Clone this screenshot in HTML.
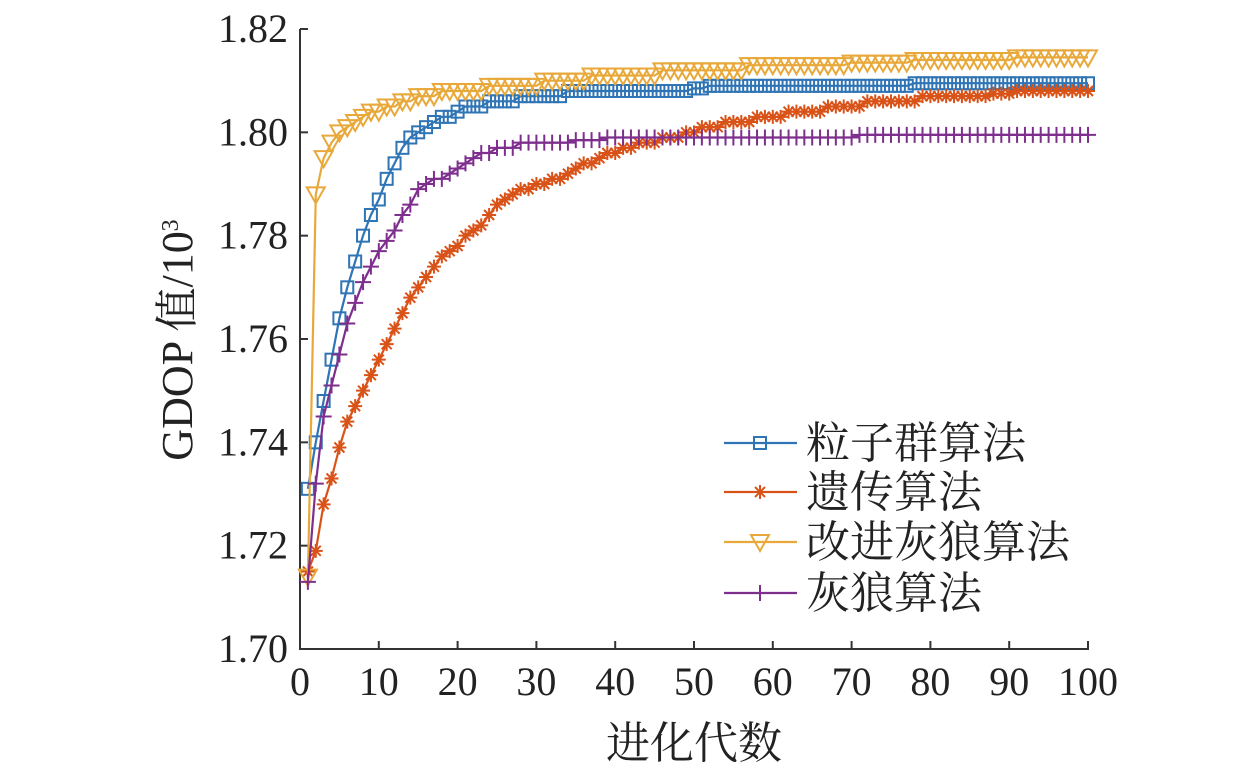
<!DOCTYPE html>
<html><head><meta charset="utf-8"><style>
html,body{margin:0;padding:0;background:#fff;}
svg text{font-family:"Liberation Serif","Noto Serif CJK SC",serif;fill:#222;}
</style></head><body>
<svg id="chart" width="1260" height="769" xmlns="http://www.w3.org/2000/svg">
<g id="axes"></g>
<g id="series"></g>
<g id="legend"></g>
</svg>
<script>
const xTicks=[0,10,20,30,40,50,60,70,80,90,100];
const yTicks=[1.70,1.72,1.74,1.76,1.78,1.80,1.82];
const yTickLabels=["1.70","1.72","1.74","1.76","1.78","1.80","1.82"];
const seriesNames=["粒子群算法","遗传算法","改进灰狼算法","灰狼算法"];
const pso=[1.731,1.740,1.748,1.756,1.764,1.770,1.775,1.780,1.784,1.787,
1.791,1.794,1.797,1.799,1.800,1.801,1.802,1.803,1.803,1.804,
1.805,1.805,1.805,1.806,1.806,1.806,1.806,1.807,1.807,1.807,
1.807,1.807,1.807,1.808,1.808,1.808,1.808,1.808,1.808,1.808,
1.808,1.808,1.808,1.808,1.808,1.808,1.808,1.808,1.808,1.8085,
1.8085,1.809,1.809,1.809,1.809,1.809,1.809,1.809,1.809,1.809,
1.809,1.809,1.809,1.809,1.809,1.809,1.809,1.809,1.809,1.809,
1.809,1.809,1.809,1.809,1.809,1.809,1.809,1.8095,1.8095,1.8095,
1.8095,1.8095,1.8095,1.8095,1.8095,1.8095,1.8095,1.8095,1.8095,1.8095,
1.8095,1.8095,1.8095,1.8095,1.8095,1.8095,1.8095,1.8095,1.8095,1.8095];
const ga=[1.715,1.719,1.728,1.733,1.739,1.744,1.747,1.750,1.753,1.756,
1.759,1.762,1.765,1.768,1.770,1.772,1.774,1.776,1.777,1.778,
1.780,1.781,1.782,1.784,1.786,1.787,1.788,1.789,1.789,1.790,
1.790,1.791,1.791,1.792,1.793,1.794,1.794,1.795,1.796,1.796,
1.797,1.797,1.798,1.798,1.798,1.799,1.799,1.799,1.800,1.800,
1.801,1.801,1.801,1.802,1.802,1.802,1.802,1.803,1.803,1.803,
1.803,1.804,1.804,1.804,1.804,1.804,1.805,1.805,1.805,1.805,
1.805,1.806,1.806,1.806,1.806,1.806,1.806,1.806,1.807,1.807,
1.807,1.807,1.807,1.807,1.807,1.807,1.807,1.8075,1.8075,1.8075,
1.808,1.808,1.808,1.808,1.808,1.808,1.808,1.808,1.808,1.808];
const igwo=[1.714,1.788,1.795,1.798,1.800,1.801,1.802,1.803,1.804,1.804,
1.805,1.805,1.806,1.806,1.807,1.807,1.807,1.808,1.808,1.808,
1.808,1.808,1.808,1.809,1.809,1.809,1.809,1.809,1.809,1.809,
1.810,1.810,1.810,1.810,1.810,1.810,1.811,1.811,1.811,1.811,
1.811,1.811,1.811,1.811,1.811,1.812,1.812,1.812,1.812,1.812,
1.812,1.812,1.812,1.812,1.812,1.812,1.813,1.813,1.813,1.813,
1.813,1.813,1.813,1.813,1.813,1.813,1.813,1.813,1.813,1.8135,
1.8135,1.8135,1.8135,1.8135,1.8135,1.8135,1.8135,1.814,1.814,1.814,
1.814,1.814,1.814,1.814,1.814,1.814,1.814,1.814,1.814,1.814,
1.8145,1.8145,1.8145,1.8145,1.8145,1.8145,1.8145,1.8145,1.8145,1.8145];
const gwo=[1.713,1.732,1.745,1.751,1.757,1.763,1.767,1.771,1.774,1.777,
1.779,1.781,1.784,1.786,1.789,1.790,1.791,1.791,1.792,1.793,
1.794,1.795,1.796,1.796,1.797,1.797,1.797,1.798,1.798,1.798,
1.798,1.798,1.798,1.798,1.7985,1.7985,1.7985,1.7985,1.799,1.799,
1.799,1.799,1.799,1.799,1.799,1.799,1.799,1.799,1.799,1.799,
1.799,1.799,1.799,1.799,1.799,1.799,1.799,1.799,1.799,1.799,
1.799,1.799,1.799,1.799,1.799,1.799,1.799,1.799,1.799,1.799,
1.7995,1.7995,1.7995,1.7995,1.7995,1.7995,1.7995,1.7995,1.7995,1.7995,
1.7995,1.7995,1.7995,1.7995,1.7995,1.7995,1.7995,1.7995,1.7995,1.7995,
1.7995,1.7995,1.7995,1.7995,1.7995,1.7995,1.7995,1.7995,1.7995,1.7995];

const NS="http://www.w3.org/2000/svg";
const X0=300,X1=1088,Y0=649,Y1=29;
function xs(v){return X0+(v-0)/(100-0)*(X1-X0);}
function ys(v){return Y0-(v-1.70)/(1.82-1.70)*(Y0-Y1);}
function mk(tag,attrs,parent){const e=document.createElementNS(NS,tag);for(const k in attrs)e.setAttribute(k,attrs[k]);parent.appendChild(e);return e;}
const axes=document.getElementById('axes'),ser=document.getElementById('series'),leg=document.getElementById('legend');

let a=mk('path',{d:`M${X0},${Y1} L${X0},${Y0} L${X1},${Y0} L${X1},${Y0-8}`,fill:'none',stroke:'#333','stroke-width':2},axes);


xTicks.forEach(t=>{
  const l=mk('line',{x1:xs(t),x2:xs(t),y1:Y0,y2:Y0-8,stroke:'#333','stroke-width':2},axes);
  
  
  const tx=mk('text',{x:xs(t),y:Y0+46,'text-anchor':'middle','font-size':40},axes);
  
  
  tx.textContent=t;
});
yTicks.forEach((t,i)=>{
  const l=mk('line',{x1:X0,x2:X0+8,y1:ys(t),y2:ys(t),stroke:'#333','stroke-width':2},axes);
  
  
  const tx=mk('text',{x:X0-12,y:ys(t)+13,'text-anchor':'end','font-size':40},axes);
  
  
  tx.textContent=yTickLabels[i];
});
let xt=mk('text',{x:694,y:758,'text-anchor':'middle','font-size':44},axes);


xt.textContent='进化代数';
let yt=mk('text',{transform:'translate(192,340) rotate(-90)','text-anchor':'middle','font-size':44},axes);


yt.innerHTML='GDOP 值/10<tspan dy="-14" font-size="24">3</tspan>';

const colors=['#2f74b5','#d95319','#e8a93a','#7e2f8e'];
const kinds=['square','star','tri','plus'];
function marker(kind,x,y,c,g){
  let e;
  if(kind==='square')e=mk('rect',{x:x-6,y:y-6,width:12,height:12,fill:'none',stroke:c,'stroke-width':2},g);
  else if(kind==='tri')e=mk('path',{d:`M${x-9},${y-7} L${x+9},${y-7} L${x},${y+9} Z`,fill:'none',stroke:c,'stroke-width':2},g);
  else if(kind==='plus')e=mk('path',{d:`M${x-8},${y} L${x+8},${y} M${x},${y-8} L${x},${y+8}`,stroke:c,'stroke-width':2},g);
  else e=mk('path',{d:`M${x-7},${y} L${x+7},${y} M${x},${y-7} L${x},${y+7} M${x-5},${y-5} L${x+5},${y+5} M${x-5},${y+5} L${x+5},${y-5}`,stroke:c,'stroke-width':2},g);
  
  
}
[pso,ga,igwo,gwo].forEach((arr,si)=>{
  const g=mk('g',{},ser);
  
  
  const d=arr.map((v,i)=>(i?'L':'M')+xs(i+1).toFixed(1)+','+ys(v).toFixed(1)).join(' ');
  const p=mk('path',{d:d,fill:'none',stroke:colors[si],'stroke-width':2.2},g);
  
  
  arr.forEach((v,i)=>marker(kinds[si],xs(i+1),ys(v),colors[si],g));
});
const legY=[443,492,542,593];
seriesNames.forEach((n,i)=>{
  const g=mk('g',{},leg);
  
  
  mk('line',{x1:724,x2:797,y1:legY[i],y2:legY[i],stroke:colors[i],'stroke-width':2.2},g);
  marker(kinds[i],760,legY[i],colors[i],g);
  const t=mk('text',{x:806,y:legY[i]+15,'font-size':44},g);
  
  
  t.textContent=n;
});
</script>
</body></html>
